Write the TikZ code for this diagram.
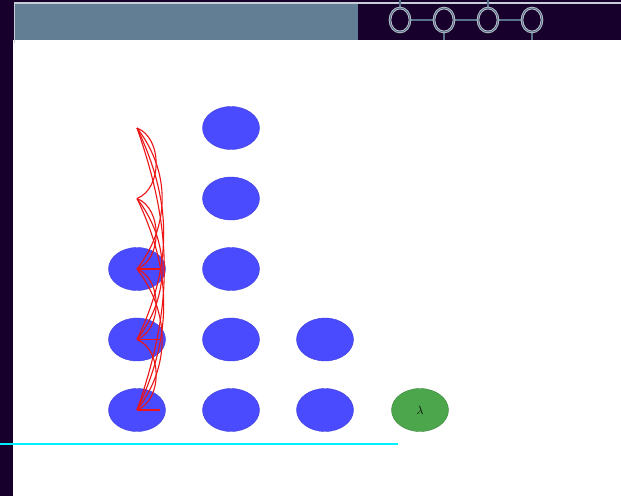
\documentclass[tikz,border=0pt]{standalone}
\usetikzlibrary{shapes.geometric}
\definecolor{bgpurple}{RGB}{24,0,44}
\definecolor{barslate}{RGB}{98,126,148}
\definecolor{barline}{RGB}{200,206,216}
\definecolor{chainslate}{RGB}{88,114,138}
\definecolor{cellblue}{RGB}{74,74,255}
\definecolor{lamgreen}{RGB}{76,166,76}
\definecolor{tracered}{RGB}{236,20,20}
\definecolor{basecyan}{RGB}{0,240,255}
\tikzset{
  cell/.style={ellipse, fill=cellblue, draw=cellblue!85!black, thin,
    minimum width=57pt, minimum height=43pt, inner sep=0pt},
  lam/.style={cell, fill=lamgreen, draw=lamgreen!80!black, font=\large},
  ring/.style={ellipse, draw=barline, line width=2.6pt, fill=bgpurple,
    minimum width=20pt, minimum height=24pt, inner sep=0pt,
    postaction={draw=chainslate, line width=1pt}},
  chain/.style={chainslate, line width=1.8pt},
  trace/.style={tracered, line width=1.1pt}
}
\begin{document}
\begin{tikzpicture}[x=1pt,y=-1pt]
    \useasboundingbox (0,0) rectangle (621,496);
    % Background
    \fill[bgpurple] (0,0) rectangle (621,496);
    \fill[white] (13,40) rectangle (621,496);
    % Title bar
    \fill[barslate] (14,4) rectangle (358,40);
    \draw[barline, line width=1.4pt] (14,3) -- (621,3);
    \draw[barline, line width=1pt] (14,3) -- (14,43);
    % Chain of rings
    \coordinate (t1) at (400,0);
    \coordinate (t2) at (444,40);
    \coordinate (t3) at (488,0);
    \coordinate (t4) at (532,40);
    \draw[chain] (t1) -- (400,20) (t3) -- (488,20) (t2) -- (444,20) (t4) -- (532,20);
    \draw[chain] (400,20) -- (532,20);
    \foreach \k/\x in {1/400,2/444,3/488,4/532}
        \node[ring] (r\k) at (\x,20) {};
    % Cells
    \foreach \col/\x/\n in {1/137/3,2/231/5,3/325/2}
        \foreach \row in {1,...,\n}
            \node[cell] (c\col\row) at (\x,{410-70.5*(\row-1)}) {};
    \node[lam] (lam) at (420,410) {$\lambda$};
    % Traces
    \foreach \i in {0,...,4}
        \coordinate (p\i) at (137,{410-70.5*\i});
    \foreach \i in {0,...,3}{
        \pgfmathtruncatemacro\s{\i+1}
        \foreach \j in {\s,...,4}{
            \pgfmathsetmacro\b{2*atan(24/(35.25*(\j-\i)))}
            \draw[trace] (p\i) to[bend right=\b] (p\j);
        }
    }
    \foreach \i in {0,...,2}
        \draw[trace] (p\i) -- ++(23,0);
    % Baseline
    \coordinate (b0) at (0,444);
    \coordinate (b1) at (398,444);
    \draw[basecyan, line width=2.6pt] (b0) -- (b1);
\end{tikzpicture}
\end{document}
